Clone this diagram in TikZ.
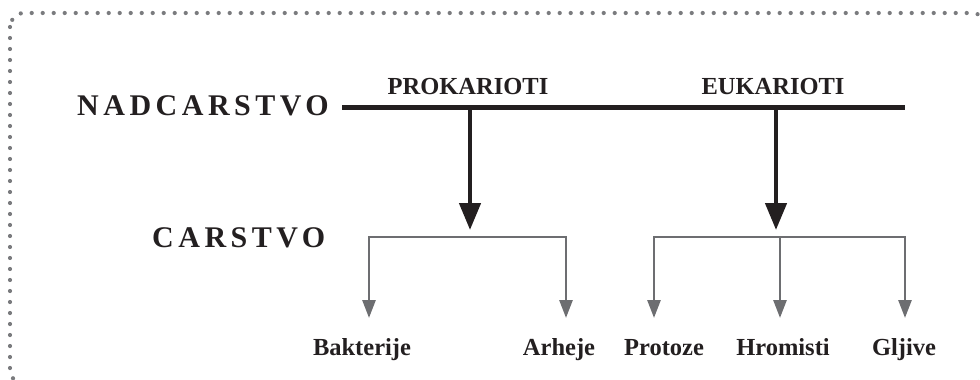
\documentclass[tikz,border=0pt]{standalone}
\usepackage{fontspec}
\setmainfont{Liberation Serif}
\usetikzlibrary{arrows.meta}
\definecolor{ink}{HTML}{231F20}
\definecolor{graylinecol}{HTML}{6D6E71}
\definecolor{dotcol}{HTML}{7A7B7E}
\tikzset{
  bigtitle/.style={font=\fontsize{30}{30}\selectfont\bfseries\addfontfeature{LetterSpace=15}, text=ink, inner sep=0pt, anchor=base west},
  midlabel/.style={font=\fontsize{24.5}{24.5}\selectfont\bfseries, text=ink, inner sep=0pt, anchor=base},
  mainline/.style={line width=5pt, draw=ink},
  bigarrow/.style={line width=4.5pt, draw=ink, -{Triangle[width=21pt,length=27pt]}, shorten >=7pt},
  grayarrow/.style={line width=2.7pt, draw=graylinecol, -{Triangle[width=13pt,length=18pt]}},
  frame/.style={draw=dotcol, line width=4.2pt, line cap=round, dash pattern=on 0pt off 11pt, rounded corners=14pt}
}
\begin{document}
\begin{tikzpicture}[x=1pt,y=-1pt]
\useasboundingbox (0,0) rectangle (980,380);
\clip (0,0) rectangle (980,380);
\draw[frame] (10,13) rectangle (986,384);

% headings
\node[bigtitle] (nad) at (77,115) {NADCARSTVO};
\node[bigtitle] (car) at (152,247) {CARSTVO};
\node[midlabel] (pro) at (468,94) {PROKARIOTI};
\node[midlabel] (euk) at (773,94) {EUKARIOTI};

% main line
\coordinate (m0) at (342,107);
\coordinate (m1) at (905,107);
\coordinate (mp) at (470,107);
\coordinate (me) at (776,107);
\draw[mainline] (m0) -- (m1);

% bracket junctions
\coordinate (bp) at (470,237);
\coordinate (be) at (780,237);
\coordinate (bea) at (776,237);
\draw[bigarrow] (mp) -- (bp);
\draw[bigarrow] (me) -- (bea);

% arrow tips
\coordinate (tb) at (369,318);
\coordinate (ta) at (566,318);
\coordinate (tp) at (654,318);
\coordinate (th) at (780,318);
\coordinate (tg) at (905,318);
\draw[grayarrow] (bp) -| (tb);
\draw[grayarrow] (bp) -| (ta);
\draw[grayarrow] (be) -| (tp);
\draw[grayarrow] (be) -- (th);
\draw[grayarrow] (be) -| (tg);

% labels
\node[midlabel] (bak) at (362,355) {Bakterije};
\node[midlabel] (arh) at (559,355) {Arheje};
\node[midlabel] (prot) at (664,355) {Protoze};
\node[midlabel] (hro) at (783,355) {Hromisti};
\node[midlabel] (glj) at (904,355) {Gljive};
\end{tikzpicture}
\end{document}
